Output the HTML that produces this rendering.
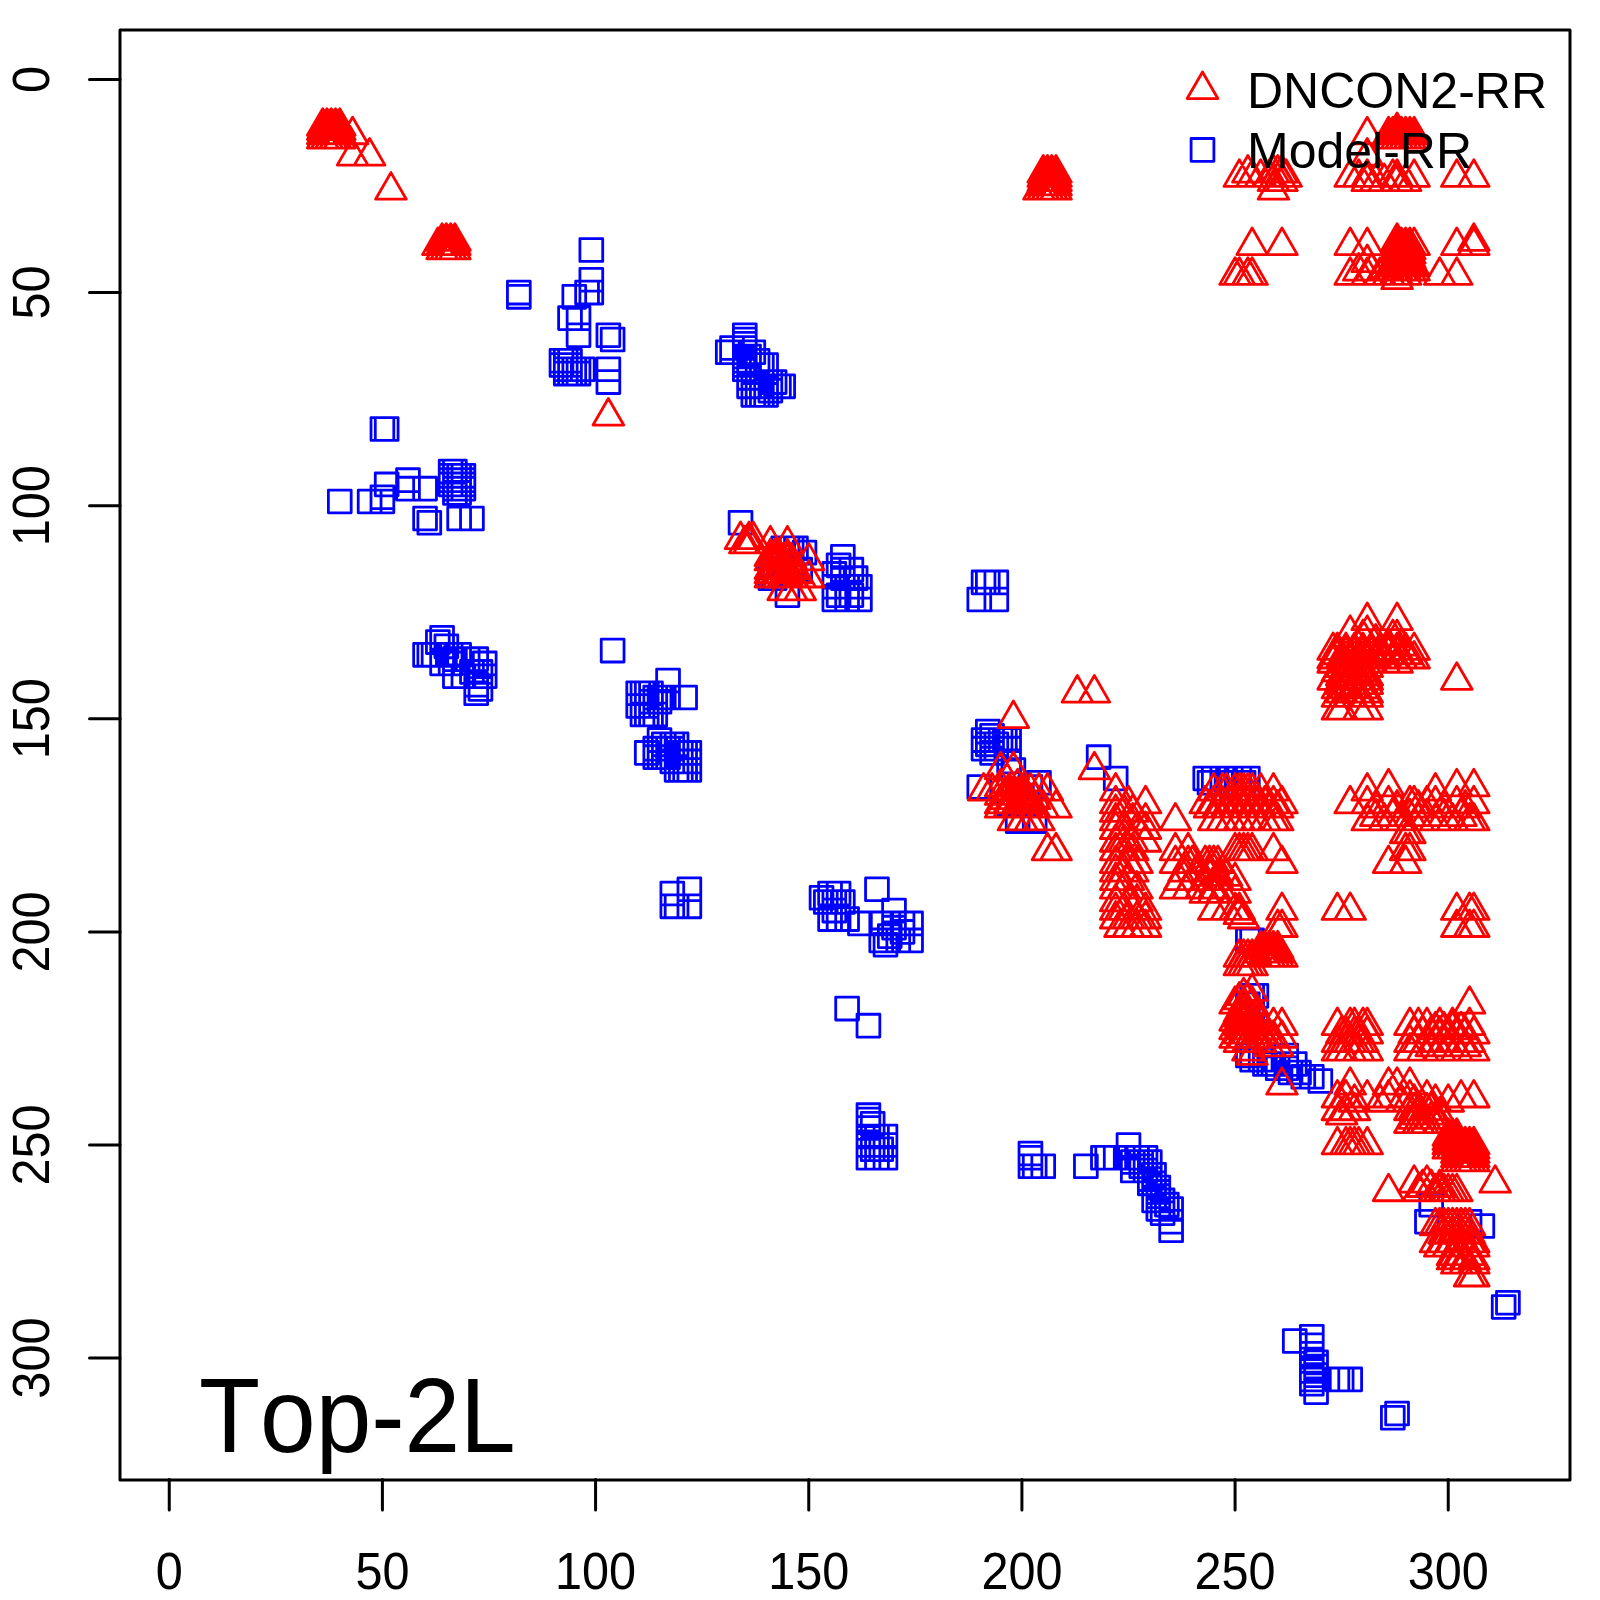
<!DOCTYPE html>
<html><head><meta charset="utf-8"><style>
html,body{margin:0;padding:0;background:#fff;}
svg{display:block;}
text{font-family:"Liberation Sans",Arial,sans-serif;}
</style></head><body>
<svg width="1600" height="1600" viewBox="0 0 1600 1600">
<rect width="1600" height="1600" fill="#fff"/>
<g fill="none" stroke-width="2.8" stroke-linejoin="round" stroke-linecap="round"><path d="M507.44 281.20H530.24V304.00H507.44ZM507.44 285.46H530.24V308.26H507.44ZM579.92 238.58H602.72V261.38H579.92ZM579.92 268.41H602.72V291.21H579.92ZM575.65 281.20H598.45V304.00H575.65ZM579.92 281.20H602.72V304.00H579.92ZM562.86 285.46H585.66V308.26H562.86ZM558.60 306.77H581.40V329.57H558.60ZM567.13 306.77H589.93V329.57H567.13ZM567.13 323.82H589.93V346.62H567.13ZM596.97 323.82H619.77V346.62H596.97ZM601.23 328.08H624.03V350.88H601.23ZM596.97 357.92H619.77V380.72H596.97ZM596.97 370.70H619.77V393.50H596.97ZM550.07 349.39H572.87V372.19H550.07ZM554.34 349.39H577.14V372.19H554.34ZM558.60 349.39H581.40V372.19H558.60ZM550.07 353.65H572.87V376.45H550.07ZM554.34 353.65H577.14V376.45H554.34ZM558.60 353.65H581.40V376.45H558.60ZM554.34 357.92H577.14V380.72H554.34ZM558.60 357.92H581.40V380.72H558.60ZM562.86 357.92H585.66V380.72H562.86ZM567.13 357.92H589.93V380.72H567.13ZM571.39 357.92H594.19V380.72H571.39ZM554.34 362.18H577.14V384.98H554.34ZM558.60 362.18H581.40V384.98H558.60ZM562.86 362.18H585.66V384.98H562.86ZM567.13 362.18H589.93V384.98H567.13ZM371.01 417.58H393.81V440.38H371.01ZM375.28 417.58H398.08V440.38H375.28ZM328.38 490.04H351.18V512.84H328.38ZM358.23 490.04H381.03V512.84H358.23ZM375.28 472.99H398.08V495.79H375.28ZM371.01 485.78H393.81V508.58H371.01ZM371.01 490.04H393.81V512.84H371.01ZM396.59 468.73H419.39V491.53H396.59ZM396.59 477.25H419.39V500.05H396.59ZM413.65 477.25H436.45V500.05H413.65ZM413.65 507.09H436.45V529.89H413.65ZM417.91 511.35H440.71V534.15H417.91ZM447.75 507.09H470.55V529.89H447.75ZM460.54 507.09H483.34V529.89H460.54ZM439.23 460.20H462.03V483.00H439.23ZM443.49 460.20H466.29V483.00H443.49ZM439.23 464.47H462.03V487.27H439.23ZM443.49 464.47H466.29V487.27H443.49ZM447.75 464.47H470.55V487.27H447.75ZM452.02 464.47H474.82V487.27H452.02ZM439.23 468.73H462.03V491.53H439.23ZM443.49 468.73H466.29V491.53H443.49ZM447.75 468.73H470.55V491.53H447.75ZM452.02 468.73H474.82V491.53H452.02ZM439.23 472.99H462.03V495.79H439.23ZM443.49 472.99H466.29V495.79H443.49ZM447.75 472.99H470.55V495.79H447.75ZM452.02 472.99H474.82V495.79H452.02ZM443.49 477.25H466.29V500.05H443.49ZM447.75 477.25H470.55V500.05H447.75ZM452.02 477.25H474.82V500.05H452.02ZM443.49 481.51H466.29V504.31H443.49ZM447.75 481.51H470.55V504.31H447.75ZM430.70 626.42H453.50V649.22H430.70ZM426.44 630.68H449.24V653.48H426.44ZM413.65 643.47H436.45V666.27H413.65ZM422.17 643.47H444.97V666.27H422.17ZM430.70 643.47H453.50V666.27H430.70ZM439.23 643.47H462.03V666.27H439.23ZM447.75 643.47H470.55V666.27H447.75ZM430.70 651.99H453.50V674.79H430.70ZM443.49 647.73H466.29V670.53H443.49ZM456.28 647.73H479.08V670.53H456.28ZM464.81 647.73H487.61V670.53H464.81ZM473.33 651.99H496.13V674.79H473.33ZM443.49 664.78H466.29V687.58H443.49ZM452.02 664.78H474.82V687.58H452.02ZM460.54 660.52H483.34V683.32H460.54ZM469.07 660.52H491.87V683.32H469.07ZM473.33 664.78H496.13V687.58H473.33ZM464.81 673.30H487.61V696.10H464.81ZM464.81 681.83H487.61V704.63H464.81ZM469.07 677.57H491.87V700.37H469.07ZM434.96 634.95H457.76V657.75H434.96ZM417.91 643.47H440.71V666.27H417.91ZM439.23 651.99H462.03V674.79H439.23ZM601.23 639.21H624.03V662.01H601.23ZM656.66 669.04H679.46V691.84H656.66ZM673.71 686.09H696.51V708.89H673.71ZM626.81 681.83H649.61V704.63H626.81ZM631.08 681.83H653.88V704.63H631.08ZM635.34 681.83H658.14V704.63H635.34ZM639.60 681.83H662.40V704.63H639.60ZM643.87 686.09H666.67V708.89H643.87ZM648.13 686.09H670.93V708.89H648.13ZM652.39 686.09H675.19V708.89H652.39ZM656.66 686.09H679.46V708.89H656.66ZM626.81 694.61H649.61V717.41H626.81ZM631.08 694.61H653.88V717.41H631.08ZM635.34 694.61H658.14V717.41H635.34ZM639.60 690.35H662.40V713.15H639.60ZM643.87 690.35H666.67V713.15H643.87ZM648.13 690.35H670.93V713.15H648.13ZM631.08 703.14H653.88V725.94H631.08ZM635.34 703.14H658.14V725.94H635.34ZM639.60 703.14H662.40V725.94H639.60ZM643.87 703.14H666.67V725.94H643.87ZM648.13 728.71H670.93V751.51H648.13ZM652.39 732.97H675.19V755.77H652.39ZM660.92 732.97H683.72V755.77H660.92ZM665.18 732.97H687.98V755.77H665.18ZM635.34 741.50H658.14V764.30H635.34ZM643.87 737.23H666.67V760.03H643.87ZM648.13 737.23H670.93V760.03H648.13ZM652.39 737.23H675.19V760.03H652.39ZM656.66 737.23H679.46V760.03H656.66ZM660.92 737.23H683.72V760.03H660.92ZM665.18 741.50H687.98V764.30H665.18ZM669.45 741.50H692.25V764.30H669.45ZM673.71 741.50H696.51V764.30H673.71ZM677.97 741.50H700.77V764.30H677.97ZM643.87 745.76H666.67V768.56H643.87ZM648.13 745.76H670.93V768.56H648.13ZM652.39 745.76H675.19V768.56H652.39ZM656.66 745.76H679.46V768.56H656.66ZM660.92 750.02H683.72V772.82H660.92ZM665.18 750.02H687.98V772.82H665.18ZM669.45 750.02H692.25V772.82H669.45ZM673.71 750.02H696.51V772.82H673.71ZM665.18 758.54H687.98V781.34H665.18ZM669.45 758.54H692.25V781.34H669.45ZM673.71 758.54H696.51V781.34H673.71ZM677.97 758.54H700.77V781.34H677.97ZM677.97 741.50H700.77V764.30H677.97ZM677.97 750.02H700.77V772.82H677.97ZM733.40 323.82H756.20V346.62H733.40ZM733.40 328.08H756.20V350.88H733.40ZM733.40 332.34H756.20V355.14H733.40ZM733.40 336.61H756.20V359.41H733.40ZM733.40 340.87H756.20V363.67H733.40ZM733.40 345.13H756.20V367.93H733.40ZM733.40 349.39H756.20V372.19H733.40ZM733.40 353.65H756.20V376.45H733.40ZM733.40 357.92H756.20V380.72H733.40ZM716.34 340.87H739.14V363.67H716.34ZM720.61 336.61H743.41V359.41H720.61ZM720.61 340.87H743.41V363.67H720.61ZM741.92 340.87H764.72V363.67H741.92ZM737.66 345.13H760.46V367.93H737.66ZM746.19 349.39H768.99V372.19H746.19ZM750.45 353.65H773.25V376.45H750.45ZM754.71 353.65H777.51V376.45H754.71ZM737.66 374.96H760.46V397.76H737.66ZM741.92 374.96H764.72V397.76H741.92ZM746.19 374.96H768.99V397.76H746.19ZM750.45 374.96H773.25V397.76H750.45ZM754.71 374.96H777.51V397.76H754.71ZM758.98 370.70H781.78V393.50H758.98ZM763.24 370.70H786.04V393.50H763.24ZM767.50 374.96H790.30V397.76H767.50ZM771.77 374.96H794.57V397.76H771.77ZM741.92 383.49H764.72V406.29H741.92ZM746.19 383.49H768.99V406.29H746.19ZM750.45 383.49H773.25V406.29H750.45ZM754.71 383.49H777.51V406.29H754.71ZM737.66 366.44H760.46V389.24H737.66ZM758.98 379.23H781.78V402.03H758.98ZM729.13 511.35H751.93V534.15H729.13ZM771.77 536.92H794.57V559.72H771.77ZM776.03 536.92H798.83V559.72H776.03ZM780.29 536.92H803.09V559.72H780.29ZM784.56 536.92H807.36V559.72H784.56ZM793.08 541.18H815.88V563.98H793.08ZM758.98 566.75H781.78V589.55H758.98ZM763.24 566.75H786.04V589.55H763.24ZM776.03 583.80H798.83V606.60H776.03ZM767.50 549.71H790.30V572.51H767.50ZM780.29 553.97H803.09V576.77H780.29ZM788.82 558.23H811.62V581.03H788.82ZM771.77 562.49H794.57V585.29H771.77ZM831.45 545.44H854.25V568.24H831.45ZM827.19 553.97H849.99V576.77H827.19ZM839.98 558.23H862.78V581.03H839.98ZM822.92 562.49H845.72V585.29H822.92ZM831.45 566.75H854.25V589.55H831.45ZM844.24 566.75H867.04V589.55H844.24ZM822.92 575.28H845.72V598.08H822.92ZM835.71 575.28H858.51V598.08H835.71ZM848.50 575.28H871.30V598.08H848.50ZM827.19 583.80H849.99V606.60H827.19ZM839.98 583.80H862.78V606.60H839.98ZM848.50 588.06H871.30V610.86H848.50ZM822.92 588.06H845.72V610.86H822.92ZM835.71 588.06H858.51V610.86H835.71ZM831.45 558.23H854.25V581.03H831.45ZM660.92 882.14H683.72V904.94H660.92ZM677.97 877.88H700.77V900.68H677.97ZM660.92 894.93H683.72V917.73H660.92ZM677.97 894.93H700.77V917.73H677.97ZM665.18 894.93H687.98V917.73H665.18ZM810.13 886.40H832.93V909.20H810.13ZM818.66 882.14H841.46V904.94H818.66ZM827.19 882.14H849.99V904.94H827.19ZM814.40 890.67H837.20V913.47H814.40ZM822.92 890.67H845.72V913.47H822.92ZM831.45 890.67H854.25V913.47H831.45ZM818.66 907.71H841.46V930.51H818.66ZM827.19 907.71H849.99V930.51H827.19ZM835.71 907.71H858.51V930.51H835.71ZM822.92 899.19H845.72V921.99H822.92ZM865.56 877.88H888.36V900.68H865.56ZM882.61 899.19H905.41V921.99H882.61ZM848.50 911.98H871.30V934.78H848.50ZM869.82 911.98H892.62V934.78H869.82ZM882.61 916.24H905.41V939.04H882.61ZM891.14 911.98H913.94V934.78H891.14ZM899.66 911.98H922.46V934.78H899.66ZM869.82 929.02H892.62V951.82H869.82ZM878.35 924.76H901.15V947.56H878.35ZM886.87 929.02H909.67V951.82H886.87ZM899.66 929.02H922.46V951.82H899.66ZM891.14 920.50H913.94V943.30H891.14ZM874.08 933.29H896.88V956.09H874.08ZM835.71 997.22H858.51V1020.02H835.71ZM857.03 1014.26H879.83V1037.06H857.03ZM857.03 1103.77H879.83V1126.57H857.03ZM857.03 1108.03H879.83V1130.83H857.03ZM857.03 1116.55H879.83V1139.35H857.03ZM857.03 1125.08H879.83V1147.88H857.03ZM857.03 1133.60H879.83V1156.40H857.03ZM857.03 1146.39H879.83V1169.19H857.03ZM861.29 1112.29H884.09V1135.09H861.29ZM865.56 1125.08H888.36V1147.88H865.56ZM874.08 1125.08H896.88V1147.88H874.08ZM874.08 1133.60H896.88V1156.40H874.08ZM874.08 1146.39H896.88V1169.19H874.08ZM865.56 1146.39H888.36V1169.19H865.56ZM869.82 1137.86H892.62V1160.66H869.82ZM861.29 1137.86H884.09V1160.66H861.29ZM1019.04 1142.12H1041.84V1164.92H1019.04ZM1019.04 1146.39H1041.84V1169.19H1019.04ZM1019.04 1154.91H1041.84V1177.71H1019.04ZM1031.83 1154.91H1054.63V1177.71H1031.83ZM1023.30 1154.91H1046.10V1177.71H1023.30ZM1074.46 1154.91H1097.26V1177.71H1074.46ZM1091.51 1146.39H1114.31V1169.19H1091.51ZM1104.30 1146.39H1127.10V1169.19H1104.30ZM1095.78 1146.39H1118.58V1169.19H1095.78ZM1117.09 1133.60H1139.89V1156.40H1117.09ZM1117.09 1146.39H1139.89V1169.19H1117.09ZM1121.36 1150.65H1144.16V1173.45H1121.36ZM1121.36 1159.17H1144.16V1181.97H1121.36ZM1125.62 1146.39H1148.42V1169.19H1125.62ZM1129.88 1150.65H1152.68V1173.45H1129.88ZM1138.41 1150.65H1161.21V1173.45H1138.41ZM1134.15 1159.17H1156.95V1181.97H1134.15ZM1129.88 1154.91H1152.68V1177.71H1129.88ZM1138.41 1171.96H1161.21V1194.76H1138.41ZM1142.67 1171.96H1165.47V1194.76H1142.67ZM1146.94 1176.22H1169.74V1199.02H1146.94ZM1138.41 1167.70H1161.21V1190.50H1138.41ZM1142.67 1189.01H1165.47V1211.81H1142.67ZM1151.20 1189.01H1174.00V1211.81H1151.20ZM1146.94 1184.74H1169.74V1207.54H1146.94ZM1146.94 1197.53H1169.74V1220.33H1146.94ZM1151.20 1201.79H1174.00V1224.59H1151.20ZM1159.73 1197.53H1182.53V1220.33H1159.73ZM1159.73 1210.32H1182.53V1233.12H1159.73ZM1159.73 1218.84H1182.53V1241.64H1159.73ZM1155.46 1193.27H1178.26V1216.07H1155.46ZM1146.94 1180.48H1169.74V1203.28H1146.94ZM1142.67 1163.43H1165.47V1186.23H1142.67ZM1134.15 1146.39H1156.95V1169.19H1134.15ZM1283.36 1329.65H1306.16V1352.45H1283.36ZM1300.41 1325.39H1323.21V1348.19H1300.41ZM1300.41 1333.91H1323.21V1356.71H1300.41ZM1304.68 1350.96H1327.48V1373.76H1304.68ZM1300.41 1359.49H1323.21V1382.29H1300.41ZM1300.41 1368.01H1323.21V1390.81H1300.41ZM1304.68 1380.80H1327.48V1403.60H1304.68ZM1300.41 1342.44H1323.21V1365.24H1300.41ZM1304.68 1355.22H1327.48V1378.02H1304.68ZM1304.68 1363.75H1327.48V1386.55H1304.68ZM1300.41 1372.27H1323.21V1395.07H1300.41ZM1325.99 1368.01H1348.79V1390.81H1325.99ZM1330.26 1368.01H1353.06V1390.81H1330.26ZM1338.78 1368.01H1361.58V1390.81H1338.78ZM1385.68 1402.11H1408.48V1424.91H1385.68ZM1381.42 1406.37H1404.22V1429.17H1381.42ZM1496.53 1291.29H1519.33V1314.09H1496.53ZM1492.26 1295.56H1515.06V1318.36H1492.26ZM976.40 720.19H999.20V742.99H976.40ZM980.67 724.45H1003.47V747.25H980.67ZM972.14 728.71H994.94V751.51H972.14ZM972.14 737.23H994.94V760.03H972.14ZM976.40 732.97H999.20V755.77H976.40ZM980.67 741.50H1003.47V764.30H980.67ZM984.93 732.97H1007.73V755.77H984.93ZM989.19 728.71H1011.99V751.51H989.19ZM993.46 728.71H1016.26V751.51H993.46ZM997.72 728.71H1020.52V751.51H997.72ZM997.72 737.23H1020.52V760.03H997.72ZM984.93 737.23H1007.73V760.03H984.93ZM1001.98 758.54H1024.78V781.34H1001.98ZM997.72 750.02H1020.52V772.82H997.72ZM1087.25 745.76H1110.05V768.56H1087.25ZM1104.30 767.07H1127.10V789.87H1104.30ZM967.88 775.59H990.68V798.39H967.88ZM1006.25 809.69H1029.05V832.49H1006.25ZM1023.30 809.69H1046.10V832.49H1023.30ZM1019.04 775.59H1041.84V798.39H1019.04ZM1027.56 771.33H1050.36V794.13H1027.56ZM1010.51 784.12H1033.31V806.92H1010.51ZM997.72 792.64H1020.52V815.44H997.72ZM1014.77 792.64H1037.57V815.44H1014.77ZM1193.83 767.07H1216.63V789.87H1193.83ZM1202.36 767.07H1225.16V789.87H1202.36ZM1210.89 767.07H1233.69V789.87H1210.89ZM1219.41 767.07H1242.21V789.87H1219.41ZM1227.94 767.07H1250.74V789.87H1227.94ZM1236.46 767.07H1259.26V789.87H1236.46ZM1198.10 771.33H1220.90V794.13H1198.10ZM1215.15 771.33H1237.95V794.13H1215.15ZM1232.20 771.33H1255.00V794.13H1232.20ZM1236.46 929.02H1259.26V951.82H1236.46ZM1244.99 984.43H1267.79V1007.23H1244.99ZM1240.73 984.43H1263.53V1007.23H1240.73ZM1236.46 992.95H1259.26V1015.75H1236.46ZM1240.73 1005.74H1263.53V1028.54H1240.73ZM1236.46 1044.10H1259.26V1066.90H1236.46ZM1240.73 1048.36H1263.53V1071.16H1240.73ZM1249.25 1048.36H1272.05V1071.16H1249.25ZM1253.52 1052.62H1276.32V1075.42H1253.52ZM1262.04 1052.62H1284.84V1075.42H1262.04ZM1266.31 1056.88H1289.11V1079.68H1266.31ZM1274.83 1056.88H1297.63V1079.68H1274.83ZM1279.10 1061.15H1301.90V1083.95H1279.10ZM1287.62 1061.15H1310.42V1083.95H1287.62ZM1291.89 1065.41H1314.69V1088.21H1291.89ZM1300.41 1065.41H1323.21V1088.21H1300.41ZM1308.94 1069.67H1331.74V1092.47H1308.94ZM1274.83 1044.10H1297.63V1066.90H1274.83ZM1415.52 1210.32H1438.32V1233.12H1415.52ZM1419.79 1193.27H1442.59V1216.07H1419.79ZM1470.95 1214.58H1493.75V1237.38H1470.95ZM1458.16 1210.32H1480.96V1233.12H1458.16ZM1240.73 929.02H1263.53V951.82H1240.73ZM1257.78 1052.62H1280.58V1075.42H1257.78ZM1283.36 1052.62H1306.16V1075.42H1283.36ZM972.14 571.02H994.94V593.82H972.14ZM984.93 571.02H1007.73V593.82H984.93ZM967.88 588.06H990.68V610.86H967.88ZM984.93 588.06H1007.73V610.86H984.93ZM976.40 571.02H999.20V593.82H976.40ZM1236.46 929.02H1259.26V951.82H1236.46Z" stroke="#0000ff"/><path d="M390.94 172.58L406.29 199.18L375.59 199.18ZM369.63 138.49L384.98 165.08L354.27 165.08ZM352.57 138.49L367.93 165.08L337.22 165.08ZM352.57 117.18L367.93 143.77L337.22 143.77ZM326.99 108.65L342.35 135.25L311.64 135.25ZM331.26 108.65L346.61 135.25L315.90 135.25ZM335.52 108.65L350.87 135.25L320.17 135.25ZM322.73 112.92L338.08 139.51L307.38 139.51ZM326.99 112.92L342.35 139.51L311.64 139.51ZM331.26 112.92L346.61 139.51L315.90 139.51ZM326.99 117.18L342.35 143.77L311.64 143.77ZM331.26 117.18L346.61 143.77L315.90 143.77ZM335.52 117.18L350.87 143.77L320.17 143.77ZM331.26 121.44L346.61 148.03L315.90 148.03ZM335.52 121.44L350.87 148.03L320.17 148.03ZM339.78 121.44L355.14 148.03L324.43 148.03ZM437.84 227.99L453.19 254.58L422.48 254.58ZM446.36 223.73L461.72 250.32L431.01 250.32ZM450.63 223.73L465.98 250.32L435.27 250.32ZM454.89 223.73L470.24 250.32L439.54 250.32ZM446.36 232.25L461.72 258.84L431.01 258.84ZM450.63 227.99L465.98 254.58L435.27 254.58ZM442.10 227.99L457.45 254.58L426.75 254.58ZM608.37 398.47L623.72 425.06L593.02 425.06ZM740.53 522.07L755.89 548.66L725.18 548.66ZM749.06 522.07L764.41 548.66L733.71 548.66ZM753.32 522.07L768.68 548.66L737.97 548.66ZM744.80 526.33L760.15 552.92L729.44 552.92ZM749.06 526.33L764.41 552.92L733.71 552.92ZM770.38 526.33L785.73 552.92L755.02 552.92ZM787.43 526.33L802.78 552.92L772.08 552.92ZM770.38 539.12L785.73 565.71L755.02 565.71ZM774.64 539.12L789.99 565.71L759.29 565.71ZM778.90 539.12L794.26 565.71L763.55 565.71ZM787.43 539.12L802.78 565.71L772.08 565.71ZM770.38 543.38L785.73 569.97L755.02 569.97ZM774.64 543.38L789.99 569.97L759.29 569.97ZM783.17 543.38L798.52 569.97L767.81 569.97ZM787.43 543.38L802.78 569.97L772.08 569.97ZM791.69 543.38L807.05 569.97L776.34 569.97ZM808.75 543.38L824.10 569.97L793.39 569.97ZM770.38 556.16L785.73 582.76L755.02 582.76ZM778.90 556.16L794.26 582.76L763.55 582.76ZM787.43 556.16L802.78 582.76L772.08 582.76ZM795.96 556.16L811.31 582.76L780.60 582.76ZM770.38 560.43L785.73 587.02L755.02 587.02ZM774.64 560.43L789.99 587.02L759.29 587.02ZM783.17 560.43L798.52 587.02L767.81 587.02ZM791.69 560.43L807.05 587.02L776.34 587.02ZM800.22 560.43L815.57 587.02L784.87 587.02ZM808.75 560.43L824.10 587.02L793.39 587.02ZM783.17 573.21L798.52 599.80L767.81 599.80ZM791.69 573.21L807.05 599.80L776.34 599.80ZM800.22 573.21L815.57 599.80L784.87 599.80ZM1239.34 159.80L1254.69 186.39L1223.99 186.39ZM1247.86 155.54L1263.22 182.13L1232.51 182.13ZM1252.13 159.80L1267.48 186.39L1236.77 186.39ZM1269.18 159.80L1284.53 186.39L1253.83 186.39ZM1273.44 155.54L1288.80 182.13L1258.09 182.13ZM1277.71 155.54L1293.06 182.13L1262.35 182.13ZM1281.97 155.54L1297.32 182.13L1266.62 182.13ZM1286.23 159.80L1301.59 186.39L1270.88 186.39ZM1273.44 164.06L1288.80 190.65L1258.09 190.65ZM1281.97 164.06L1297.32 190.65L1266.62 190.65ZM1273.44 172.58L1288.80 199.18L1258.09 199.18ZM1260.65 159.80L1276.01 186.39L1245.30 186.39ZM1252.13 227.99L1267.48 254.58L1236.77 254.58ZM1281.97 227.99L1297.32 254.58L1266.62 254.58ZM1235.08 257.82L1250.43 284.42L1219.72 284.42ZM1239.34 257.82L1254.69 284.42L1223.99 284.42ZM1247.86 257.82L1263.22 284.42L1232.51 284.42ZM1252.13 257.82L1267.48 284.42L1236.77 284.42ZM1367.24 117.18L1382.59 143.77L1351.88 143.77ZM1388.55 117.18L1403.91 143.77L1373.20 143.77ZM1392.82 117.18L1408.17 143.77L1377.46 143.77ZM1397.08 112.92L1412.43 139.51L1381.73 139.51ZM1401.34 117.18L1416.70 143.77L1385.99 143.77ZM1405.61 117.18L1420.96 143.77L1390.25 143.77ZM1409.87 117.18L1425.22 143.77L1394.52 143.77ZM1414.13 117.18L1429.49 143.77L1398.78 143.77ZM1392.82 121.44L1408.17 148.03L1377.46 148.03ZM1401.34 121.44L1416.70 148.03L1385.99 148.03ZM1405.61 121.44L1420.96 148.03L1390.25 148.03ZM1397.08 117.18L1412.43 143.77L1381.73 143.77ZM1367.24 138.49L1382.59 165.08L1351.88 165.08ZM1350.18 159.80L1365.54 186.39L1334.83 186.39ZM1358.71 159.80L1374.06 186.39L1343.36 186.39ZM1367.24 159.80L1382.59 186.39L1351.88 186.39ZM1367.24 164.06L1382.59 190.65L1351.88 190.65ZM1375.76 164.06L1391.12 190.65L1360.41 190.65ZM1384.29 164.06L1399.64 190.65L1368.94 190.65ZM1392.82 159.80L1408.17 186.39L1377.46 186.39ZM1397.08 159.80L1412.43 186.39L1381.73 186.39ZM1397.08 164.06L1412.43 190.65L1381.73 190.65ZM1405.61 164.06L1420.96 190.65L1390.25 190.65ZM1414.13 159.80L1429.49 186.39L1398.78 186.39ZM1456.77 159.80L1472.12 186.39L1441.41 186.39ZM1473.82 159.80L1489.17 186.39L1458.47 186.39ZM1350.18 227.99L1365.54 254.58L1334.83 254.58ZM1367.24 227.99L1382.59 254.58L1351.88 254.58ZM1397.08 223.73L1412.43 250.32L1381.73 250.32ZM1401.34 227.99L1416.70 254.58L1385.99 254.58ZM1405.61 227.99L1420.96 254.58L1390.25 254.58ZM1409.87 227.99L1425.22 254.58L1394.52 254.58ZM1414.13 227.99L1429.49 254.58L1398.78 254.58ZM1456.77 227.99L1472.12 254.58L1441.41 254.58ZM1473.82 223.73L1489.17 250.32L1458.47 250.32ZM1473.82 227.99L1489.17 254.58L1458.47 254.58ZM1401.34 232.25L1416.70 258.84L1385.99 258.84ZM1405.61 232.25L1420.96 258.84L1390.25 258.84ZM1367.24 245.04L1382.59 271.63L1351.88 271.63ZM1350.18 257.82L1365.54 284.42L1334.83 284.42ZM1358.71 253.56L1374.06 280.15L1343.36 280.15ZM1367.24 257.82L1382.59 284.42L1351.88 284.42ZM1371.50 253.56L1386.85 280.15L1356.15 280.15ZM1439.71 257.82L1455.07 284.42L1424.36 284.42ZM1456.77 257.82L1472.12 284.42L1441.41 284.42ZM1397.08 257.82L1412.43 284.42L1381.73 284.42ZM1397.08 262.09L1412.43 288.68L1381.73 288.68ZM1384.29 253.56L1399.64 280.15L1368.94 280.15ZM1388.55 253.56L1403.91 280.15L1373.20 280.15ZM1392.82 253.56L1408.17 280.15L1377.46 280.15ZM1401.34 253.56L1416.70 280.15L1385.99 280.15ZM1405.61 253.56L1420.96 280.15L1390.25 280.15ZM1409.87 253.56L1425.22 280.15L1394.52 280.15ZM1414.13 253.56L1429.49 280.15L1398.78 280.15ZM1388.55 257.82L1403.91 284.42L1373.20 284.42ZM1405.61 257.82L1420.96 284.42L1390.25 284.42ZM1380.03 257.82L1395.38 284.42L1364.67 284.42ZM1414.13 249.30L1429.49 275.89L1398.78 275.89ZM1401.34 249.30L1416.70 275.89L1385.99 275.89ZM1392.82 249.30L1408.17 275.89L1377.46 275.89ZM1047.49 155.54L1062.84 182.13L1032.14 182.13ZM1051.75 155.54L1067.11 182.13L1036.40 182.13ZM1056.02 159.80L1071.37 186.39L1040.66 186.39ZM1051.75 164.06L1067.11 190.65L1036.40 190.65ZM1047.49 168.32L1062.84 194.91L1032.14 194.91ZM1047.49 172.58L1062.84 199.18L1032.14 199.18ZM1038.96 172.58L1054.32 199.18L1023.61 199.18ZM1043.23 164.06L1058.58 190.65L1027.87 190.65ZM1043.23 172.58L1058.58 199.18L1027.87 199.18ZM1047.49 164.06L1062.84 190.65L1032.14 190.65ZM1043.23 168.32L1058.58 194.91L1027.87 194.91ZM1367.24 603.05L1382.59 629.64L1351.88 629.64ZM1397.08 603.05L1412.43 629.64L1381.73 629.64ZM1350.18 615.83L1365.54 642.42L1334.83 642.42ZM1367.24 615.83L1382.59 642.42L1351.88 642.42ZM1362.97 620.09L1378.33 646.69L1347.62 646.69ZM1392.82 620.09L1408.17 646.69L1377.46 646.69ZM1397.08 620.09L1412.43 646.69L1381.73 646.69ZM1333.13 632.88L1348.48 659.47L1317.78 659.47ZM1337.39 632.88L1352.75 659.47L1322.04 659.47ZM1345.92 632.88L1361.27 659.47L1330.57 659.47ZM1354.45 632.88L1369.80 659.47L1339.09 659.47ZM1362.97 632.88L1378.33 659.47L1347.62 659.47ZM1371.50 632.88L1386.85 659.47L1356.15 659.47ZM1380.03 632.88L1395.38 659.47L1364.67 659.47ZM1388.55 632.88L1403.91 659.47L1373.20 659.47ZM1397.08 632.88L1412.43 659.47L1381.73 659.47ZM1405.61 632.88L1420.96 659.47L1390.25 659.47ZM1414.13 632.88L1429.49 659.47L1398.78 659.47ZM1333.13 641.40L1348.48 668.00L1317.78 668.00ZM1341.66 641.40L1357.01 668.00L1326.30 668.00ZM1350.18 641.40L1365.54 668.00L1334.83 668.00ZM1358.71 641.40L1374.06 668.00L1343.36 668.00ZM1367.24 641.40L1382.59 668.00L1351.88 668.00ZM1375.76 641.40L1391.12 668.00L1360.41 668.00ZM1384.29 641.40L1399.64 668.00L1368.94 668.00ZM1392.82 641.40L1408.17 668.00L1377.46 668.00ZM1401.34 641.40L1416.70 668.00L1385.99 668.00ZM1409.87 641.40L1425.22 668.00L1394.52 668.00ZM1414.13 641.40L1429.49 668.00L1398.78 668.00ZM1333.13 645.67L1348.48 672.26L1317.78 672.26ZM1345.92 645.67L1361.27 672.26L1330.57 672.26ZM1358.71 645.67L1374.06 672.26L1343.36 672.26ZM1371.50 645.67L1386.85 672.26L1356.15 672.26ZM1384.29 645.67L1399.64 672.26L1368.94 672.26ZM1397.08 645.67L1412.43 672.26L1381.73 672.26ZM1337.39 654.19L1352.75 680.78L1322.04 680.78ZM1345.92 654.19L1361.27 680.78L1330.57 680.78ZM1354.45 654.19L1369.80 680.78L1339.09 680.78ZM1362.97 654.19L1378.33 680.78L1347.62 680.78ZM1333.13 662.71L1348.48 689.31L1317.78 689.31ZM1341.66 662.71L1357.01 689.31L1326.30 689.31ZM1350.18 662.71L1365.54 689.31L1334.83 689.31ZM1358.71 662.71L1374.06 689.31L1343.36 689.31ZM1367.24 662.71L1382.59 689.31L1351.88 689.31ZM1337.39 671.24L1352.75 697.83L1322.04 697.83ZM1345.92 671.24L1361.27 697.83L1330.57 697.83ZM1354.45 671.24L1369.80 697.83L1339.09 697.83ZM1362.97 671.24L1378.33 697.83L1347.62 697.83ZM1337.39 679.76L1352.75 706.35L1322.04 706.35ZM1350.18 679.76L1365.54 706.35L1334.83 706.35ZM1358.71 679.76L1374.06 706.35L1343.36 706.35ZM1367.24 679.76L1382.59 706.35L1351.88 706.35ZM1337.39 692.55L1352.75 719.14L1322.04 719.14ZM1341.66 692.55L1357.01 719.14L1326.30 719.14ZM1358.71 692.55L1374.06 719.14L1343.36 719.14ZM1367.24 692.55L1382.59 719.14L1351.88 719.14ZM1456.77 662.71L1472.12 689.31L1441.41 689.31ZM1077.33 675.50L1092.69 702.09L1061.98 702.09ZM1094.39 675.50L1109.74 702.09L1079.03 702.09ZM1013.38 701.07L1028.74 727.66L998.03 727.66ZM1000.59 752.22L1015.95 778.81L985.24 778.81ZM1013.38 752.22L1028.74 778.81L998.03 778.81ZM1094.39 752.22L1109.74 778.81L1079.03 778.81ZM1115.70 773.53L1131.06 800.12L1100.35 800.12ZM983.54 773.53L998.89 800.12L968.19 800.12ZM1030.44 773.53L1045.79 800.12L1015.08 800.12ZM1038.96 773.53L1054.32 800.12L1023.61 800.12ZM1047.49 773.53L1062.84 800.12L1032.14 800.12ZM1115.70 786.31L1131.06 812.90L1100.35 812.90ZM1128.49 786.31L1143.85 812.90L1113.14 812.90ZM1000.59 769.26L1015.95 795.86L985.24 795.86ZM1017.65 769.26L1033.00 795.86L1002.29 795.86ZM992.07 773.53L1007.42 800.12L976.71 800.12ZM1009.12 773.53L1024.47 800.12L993.77 800.12ZM1021.91 773.53L1037.26 800.12L1006.56 800.12ZM1047.49 833.19L1062.84 859.79L1032.14 859.79ZM1056.02 833.19L1071.37 859.79L1040.66 859.79ZM1000.59 790.57L1015.95 817.17L985.24 817.17ZM1009.12 790.57L1024.47 817.17L993.77 817.17ZM1017.65 790.57L1033.00 817.17L1002.29 817.17ZM1026.17 790.57L1041.53 817.17L1010.82 817.17ZM1034.70 790.57L1050.05 817.17L1019.35 817.17ZM1043.23 790.57L1058.58 817.17L1027.87 817.17ZM1056.02 790.57L1071.37 817.17L1040.66 817.17ZM1004.86 782.05L1020.21 808.64L989.50 808.64ZM1021.91 782.05L1037.26 808.64L1006.56 808.64ZM1034.70 782.05L1050.05 808.64L1019.35 808.64ZM1013.38 803.36L1028.74 829.95L998.03 829.95ZM1021.91 803.36L1037.26 829.95L1006.56 829.95ZM1030.44 803.36L1045.79 829.95L1015.08 829.95ZM1038.96 803.36L1054.32 829.95L1023.61 829.95ZM1004.86 777.79L1020.21 804.38L989.50 804.38ZM1013.38 777.79L1028.74 804.38L998.03 804.38ZM1021.91 777.79L1037.26 804.38L1006.56 804.38ZM1030.44 786.31L1045.79 812.90L1015.08 812.90ZM1115.70 786.31L1131.06 812.90L1100.35 812.90ZM1128.49 786.31L1143.85 812.90L1113.14 812.90ZM1145.55 786.31L1160.90 812.90L1130.19 812.90ZM1115.70 794.84L1131.06 821.43L1100.35 821.43ZM1124.23 794.84L1139.58 821.43L1108.88 821.43ZM1132.76 794.84L1148.11 821.43L1117.40 821.43ZM1115.70 803.36L1131.06 829.95L1100.35 829.95ZM1132.76 803.36L1148.11 829.95L1117.40 829.95ZM1145.55 803.36L1160.90 829.95L1130.19 829.95ZM1115.70 811.88L1131.06 838.48L1100.35 838.48ZM1124.23 811.88L1139.58 838.48L1108.88 838.48ZM1137.02 811.88L1152.37 838.48L1121.67 838.48ZM1145.55 811.88L1160.90 838.48L1130.19 838.48ZM1115.70 824.67L1131.06 851.26L1100.35 851.26ZM1124.23 824.67L1139.58 851.26L1108.88 851.26ZM1132.76 824.67L1148.11 851.26L1117.40 851.26ZM1145.55 824.67L1160.90 851.26L1130.19 851.26ZM1115.70 833.19L1131.06 859.79L1100.35 859.79ZM1124.23 833.19L1139.58 859.79L1108.88 859.79ZM1132.76 833.19L1148.11 859.79L1117.40 859.79ZM1115.70 845.98L1131.06 872.57L1100.35 872.57ZM1128.49 845.98L1143.85 872.57L1113.14 872.57ZM1137.02 845.98L1152.37 872.57L1121.67 872.57ZM1115.70 854.50L1131.06 881.10L1100.35 881.10ZM1124.23 854.50L1139.58 881.10L1108.88 881.10ZM1132.76 854.50L1148.11 881.10L1117.40 881.10ZM1115.70 863.03L1131.06 889.62L1100.35 889.62ZM1128.49 863.03L1143.85 889.62L1113.14 889.62ZM1115.70 871.55L1131.06 898.14L1100.35 898.14ZM1124.23 871.55L1139.58 898.14L1108.88 898.14ZM1137.02 871.55L1152.37 898.14L1121.67 898.14ZM1115.70 884.34L1131.06 910.93L1100.35 910.93ZM1128.49 884.34L1143.85 910.93L1113.14 910.93ZM1137.02 884.34L1152.37 910.93L1121.67 910.93ZM1115.70 892.86L1131.06 919.45L1100.35 919.45ZM1124.23 892.86L1139.58 919.45L1108.88 919.45ZM1132.76 892.86L1148.11 919.45L1117.40 919.45ZM1145.55 892.86L1160.90 919.45L1130.19 919.45ZM1115.70 901.39L1131.06 927.98L1100.35 927.98ZM1128.49 901.39L1143.85 927.98L1113.14 927.98ZM1137.02 901.39L1152.37 927.98L1121.67 927.98ZM1145.55 901.39L1160.90 927.98L1130.19 927.98ZM1119.97 909.91L1135.32 936.50L1104.61 936.50ZM1128.49 909.91L1143.85 936.50L1113.14 936.50ZM1137.02 909.91L1152.37 936.50L1121.67 936.50ZM1145.55 909.91L1160.90 936.50L1130.19 936.50ZM1175.39 803.36L1190.74 829.95L1160.04 829.95ZM1175.39 833.19L1190.74 859.79L1160.04 859.79ZM1188.18 833.19L1203.53 859.79L1172.83 859.79ZM1175.39 845.98L1190.74 872.57L1160.04 872.57ZM1188.18 845.98L1203.53 872.57L1172.83 872.57ZM1192.44 845.98L1207.80 872.57L1177.09 872.57ZM1205.23 845.98L1220.59 872.57L1189.88 872.57ZM1218.02 845.98L1233.38 872.57L1202.67 872.57ZM1183.92 854.50L1199.27 881.10L1168.56 881.10ZM1196.71 854.50L1212.06 881.10L1181.35 881.10ZM1209.50 854.50L1224.85 881.10L1194.14 881.10ZM1179.65 863.03L1195.01 889.62L1164.30 889.62ZM1192.44 863.03L1207.80 889.62L1177.09 889.62ZM1205.23 863.03L1220.59 889.62L1189.88 889.62ZM1218.02 863.03L1233.38 889.62L1202.67 889.62ZM1175.39 871.55L1190.74 898.14L1160.04 898.14ZM1188.18 871.55L1203.53 898.14L1172.83 898.14ZM1200.97 871.55L1216.32 898.14L1185.62 898.14ZM1213.76 871.55L1229.11 898.14L1198.41 898.14ZM1213.76 773.53L1229.11 800.12L1198.41 800.12ZM1222.29 773.53L1237.64 800.12L1206.93 800.12ZM1226.55 773.53L1241.90 800.12L1211.20 800.12ZM1235.08 773.53L1250.43 800.12L1219.72 800.12ZM1239.34 773.53L1254.69 800.12L1223.99 800.12ZM1243.60 773.53L1258.95 800.12L1228.25 800.12ZM1247.86 773.53L1263.22 800.12L1232.51 800.12ZM1252.13 773.53L1267.48 800.12L1236.77 800.12ZM1260.65 773.53L1276.01 800.12L1245.30 800.12ZM1273.44 773.53L1288.80 800.12L1258.09 800.12ZM1205.23 786.31L1220.59 812.90L1189.88 812.90ZM1213.76 786.31L1229.11 812.90L1198.41 812.90ZM1222.29 786.31L1237.64 812.90L1206.93 812.90ZM1230.81 786.31L1246.16 812.90L1215.46 812.90ZM1239.34 786.31L1254.69 812.90L1223.99 812.90ZM1247.86 786.31L1263.22 812.90L1232.51 812.90ZM1256.39 786.31L1271.74 812.90L1241.04 812.90ZM1264.92 786.31L1280.27 812.90L1249.56 812.90ZM1273.44 786.31L1288.80 812.90L1258.09 812.90ZM1281.97 786.31L1297.32 812.90L1266.62 812.90ZM1213.76 803.36L1229.11 829.95L1198.41 829.95ZM1222.29 803.36L1237.64 829.95L1206.93 829.95ZM1230.81 803.36L1246.16 829.95L1215.46 829.95ZM1239.34 803.36L1254.69 829.95L1223.99 829.95ZM1247.86 803.36L1263.22 829.95L1232.51 829.95ZM1256.39 803.36L1271.74 829.95L1241.04 829.95ZM1264.92 803.36L1280.27 829.95L1249.56 829.95ZM1273.44 803.36L1288.80 829.95L1258.09 829.95ZM1277.71 803.36L1293.06 829.95L1262.35 829.95ZM1209.50 790.57L1224.85 817.17L1194.14 817.17ZM1218.02 790.57L1233.38 817.17L1202.67 817.17ZM1226.55 790.57L1241.90 817.17L1211.20 817.17ZM1235.08 790.57L1250.43 817.17L1219.72 817.17ZM1243.60 790.57L1258.95 817.17L1228.25 817.17ZM1252.13 790.57L1267.48 817.17L1236.77 817.17ZM1260.65 790.57L1276.01 817.17L1245.30 817.17ZM1269.18 790.57L1284.53 817.17L1253.83 817.17ZM1277.71 790.57L1293.06 817.17L1262.35 817.17ZM1235.08 833.19L1250.43 859.79L1219.72 859.79ZM1239.34 833.19L1254.69 859.79L1223.99 859.79ZM1243.60 833.19L1258.95 859.79L1228.25 859.79ZM1247.86 833.19L1263.22 859.79L1232.51 859.79ZM1252.13 833.19L1267.48 859.79L1236.77 859.79ZM1273.44 833.19L1288.80 859.79L1258.09 859.79ZM1205.23 845.98L1220.59 872.57L1189.88 872.57ZM1209.50 845.98L1224.85 872.57L1194.14 872.57ZM1213.76 845.98L1229.11 872.57L1198.41 872.57ZM1218.02 845.98L1233.38 872.57L1202.67 872.57ZM1281.97 845.98L1297.32 872.57L1266.62 872.57ZM1209.50 858.77L1224.85 885.36L1194.14 885.36ZM1218.02 858.77L1233.38 885.36L1202.67 885.36ZM1226.55 858.77L1241.90 885.36L1211.20 885.36ZM1235.08 863.03L1250.43 889.62L1219.72 889.62ZM1205.23 875.81L1220.59 902.41L1189.88 902.41ZM1213.76 875.81L1229.11 902.41L1198.41 902.41ZM1222.29 875.81L1237.64 902.41L1206.93 902.41ZM1235.08 875.81L1250.43 902.41L1219.72 902.41ZM1213.76 892.86L1229.11 919.45L1198.41 919.45ZM1226.55 892.86L1241.90 919.45L1211.20 919.45ZM1235.08 892.86L1250.43 919.45L1219.72 919.45ZM1281.97 892.86L1297.32 919.45L1266.62 919.45ZM1337.39 892.86L1352.75 919.45L1322.04 919.45ZM1350.18 892.86L1365.54 919.45L1334.83 919.45ZM1239.34 897.12L1254.69 923.72L1223.99 923.72ZM1243.60 901.39L1258.95 927.98L1228.25 927.98ZM1281.97 909.91L1297.32 936.50L1266.62 936.50ZM1350.18 786.31L1365.54 812.90L1334.83 812.90ZM1367.24 773.53L1382.59 800.12L1351.88 800.12ZM1388.55 769.26L1403.91 795.86L1373.20 795.86ZM1367.24 786.31L1382.59 812.90L1351.88 812.90ZM1388.55 786.31L1403.91 812.90L1373.20 812.90ZM1409.87 786.31L1425.22 812.90L1394.52 812.90ZM1414.13 786.31L1429.49 812.90L1398.78 812.90ZM1435.45 773.53L1450.80 800.12L1420.10 800.12ZM1435.45 786.31L1450.80 812.90L1420.10 812.90ZM1456.77 769.26L1472.12 795.86L1441.41 795.86ZM1473.82 769.26L1489.17 795.86L1458.47 795.86ZM1456.77 786.31L1472.12 812.90L1441.41 812.90ZM1473.82 786.31L1489.17 812.90L1458.47 812.90ZM1426.92 786.31L1442.28 812.90L1411.57 812.90ZM1367.24 803.36L1382.59 829.95L1351.88 829.95ZM1384.29 803.36L1399.64 829.95L1368.94 829.95ZM1401.34 803.36L1416.70 829.95L1385.99 829.95ZM1418.40 803.36L1433.75 829.95L1403.04 829.95ZM1435.45 803.36L1450.80 829.95L1420.10 829.95ZM1452.50 803.36L1467.86 829.95L1437.15 829.95ZM1469.56 803.36L1484.91 829.95L1454.20 829.95ZM1473.82 803.36L1489.17 829.95L1458.47 829.95ZM1375.76 799.10L1391.12 825.69L1360.41 825.69ZM1392.82 799.10L1408.17 825.69L1377.46 825.69ZM1409.87 799.10L1425.22 825.69L1394.52 825.69ZM1426.92 799.10L1442.28 825.69L1411.57 825.69ZM1443.98 799.10L1459.33 825.69L1428.62 825.69ZM1461.03 799.10L1476.38 825.69L1445.68 825.69ZM1375.76 790.57L1391.12 817.17L1360.41 817.17ZM1397.08 790.57L1412.43 817.17L1381.73 817.17ZM1418.40 790.57L1433.75 817.17L1403.04 817.17ZM1443.98 790.57L1459.33 817.17L1428.62 817.17ZM1465.29 790.57L1480.65 817.17L1449.94 817.17ZM1409.87 816.15L1425.22 842.74L1394.52 842.74ZM1405.61 816.15L1420.96 842.74L1390.25 842.74ZM1409.87 833.19L1425.22 859.79L1394.52 859.79ZM1405.61 845.98L1420.96 872.57L1390.25 872.57ZM1388.55 845.98L1403.91 872.57L1373.20 872.57ZM1405.61 833.19L1420.96 859.79L1390.25 859.79ZM1456.77 892.86L1472.12 919.45L1441.41 919.45ZM1469.56 892.86L1484.91 919.45L1454.20 919.45ZM1473.82 892.86L1489.17 919.45L1458.47 919.45ZM1456.77 909.91L1472.12 936.50L1441.41 936.50ZM1469.56 909.91L1484.91 936.50L1454.20 936.50ZM1473.82 909.91L1489.17 936.50L1458.47 936.50ZM1239.34 892.86L1254.69 919.45L1223.99 919.45ZM1213.76 892.86L1229.11 919.45L1198.41 919.45ZM1239.34 939.74L1254.69 966.34L1223.99 966.34ZM1243.60 939.74L1258.95 966.34L1228.25 966.34ZM1247.86 939.74L1263.22 966.34L1232.51 966.34ZM1252.13 939.74L1267.48 966.34L1236.77 966.34ZM1260.65 935.48L1276.01 962.07L1245.30 962.07ZM1264.92 935.48L1280.27 962.07L1249.56 962.07ZM1269.18 935.48L1284.53 962.07L1253.83 962.07ZM1273.44 931.22L1288.80 957.81L1258.09 957.81ZM1277.71 931.22L1293.06 957.81L1262.35 957.81ZM1281.97 939.74L1297.32 966.34L1266.62 966.34ZM1269.18 939.74L1284.53 966.34L1253.83 966.34ZM1277.71 939.74L1293.06 966.34L1262.35 966.34ZM1260.65 931.22L1276.01 957.81L1245.30 957.81ZM1256.39 939.74L1271.74 966.34L1241.04 966.34ZM1239.34 948.27L1254.69 974.86L1223.99 974.86ZM1243.60 948.27L1258.95 974.86L1228.25 974.86ZM1247.86 948.27L1263.22 974.86L1232.51 974.86ZM1252.13 948.27L1267.48 974.86L1236.77 974.86ZM1239.34 897.12L1254.69 923.72L1223.99 923.72ZM1277.71 909.91L1293.06 936.50L1262.35 936.50ZM1247.86 982.36L1263.22 1008.96L1232.51 1008.96ZM1235.08 986.63L1250.43 1013.22L1219.72 1013.22ZM1243.60 986.63L1258.95 1013.22L1228.25 1013.22ZM1239.34 995.15L1254.69 1021.74L1223.99 1021.74ZM1247.86 995.15L1263.22 1021.74L1232.51 1021.74ZM1235.08 1003.67L1250.43 1030.27L1219.72 1030.27ZM1243.60 1003.67L1258.95 1030.27L1228.25 1030.27ZM1252.13 1003.67L1267.48 1030.27L1236.77 1030.27ZM1260.65 1003.67L1276.01 1030.27L1245.30 1030.27ZM1273.44 1007.94L1288.80 1034.53L1258.09 1034.53ZM1281.97 1007.94L1297.32 1034.53L1266.62 1034.53ZM1235.08 1012.20L1250.43 1038.79L1219.72 1038.79ZM1243.60 1012.20L1258.95 1038.79L1228.25 1038.79ZM1252.13 1016.46L1267.48 1043.05L1236.77 1043.05ZM1260.65 1016.46L1276.01 1043.05L1245.30 1043.05ZM1269.18 1020.72L1284.53 1047.31L1253.83 1047.31ZM1235.08 1020.72L1250.43 1047.31L1219.72 1047.31ZM1243.60 1020.72L1258.95 1047.31L1228.25 1047.31ZM1252.13 1024.98L1267.48 1051.58L1236.77 1051.58ZM1260.65 1024.98L1276.01 1051.58L1245.30 1051.58ZM1281.97 1020.72L1297.32 1047.31L1266.62 1047.31ZM1247.86 1033.51L1263.22 1060.10L1232.51 1060.10ZM1281.97 1067.60L1297.32 1094.20L1266.62 1094.20ZM1337.39 1007.94L1352.75 1034.53L1322.04 1034.53ZM1350.18 1007.94L1365.54 1034.53L1334.83 1034.53ZM1354.45 1007.94L1369.80 1034.53L1339.09 1034.53ZM1362.97 1007.94L1378.33 1034.53L1347.62 1034.53ZM1367.24 1007.94L1382.59 1034.53L1351.88 1034.53ZM1341.66 1016.46L1357.01 1043.05L1326.30 1043.05ZM1345.92 1016.46L1361.27 1043.05L1330.57 1043.05ZM1354.45 1016.46L1369.80 1043.05L1339.09 1043.05ZM1358.71 1016.46L1374.06 1043.05L1343.36 1043.05ZM1367.24 1016.46L1382.59 1043.05L1351.88 1043.05ZM1337.39 1024.98L1352.75 1051.58L1322.04 1051.58ZM1345.92 1024.98L1361.27 1051.58L1330.57 1051.58ZM1350.18 1024.98L1365.54 1051.58L1334.83 1051.58ZM1358.71 1024.98L1374.06 1051.58L1343.36 1051.58ZM1362.97 1024.98L1378.33 1051.58L1347.62 1051.58ZM1341.66 1033.51L1357.01 1060.10L1326.30 1060.10ZM1350.18 1033.51L1365.54 1060.10L1334.83 1060.10ZM1358.71 1033.51L1374.06 1060.10L1343.36 1060.10ZM1367.24 1033.51L1382.59 1060.10L1351.88 1060.10ZM1337.39 1033.51L1352.75 1060.10L1322.04 1060.10ZM1469.56 986.63L1484.91 1013.22L1454.20 1013.22ZM1409.87 1007.94L1425.22 1034.53L1394.52 1034.53ZM1426.92 1007.94L1442.28 1034.53L1411.57 1034.53ZM1469.56 1007.94L1484.91 1034.53L1454.20 1034.53ZM1418.40 1007.94L1433.75 1034.53L1403.04 1034.53ZM1439.71 1007.94L1455.07 1034.53L1424.36 1034.53ZM1452.50 1007.94L1467.86 1034.53L1437.15 1034.53ZM1414.13 1016.46L1429.49 1043.05L1398.78 1043.05ZM1422.66 1016.46L1438.01 1043.05L1407.31 1043.05ZM1431.19 1016.46L1446.54 1043.05L1415.83 1043.05ZM1435.45 1012.20L1450.80 1038.79L1420.10 1038.79ZM1439.71 1016.46L1455.07 1043.05L1424.36 1043.05ZM1443.98 1012.20L1459.33 1038.79L1428.62 1038.79ZM1448.24 1016.46L1463.59 1043.05L1432.89 1043.05ZM1452.50 1012.20L1467.86 1038.79L1437.15 1038.79ZM1456.77 1016.46L1472.12 1043.05L1441.41 1043.05ZM1461.03 1012.20L1476.38 1038.79L1445.68 1038.79ZM1465.29 1016.46L1480.65 1043.05L1449.94 1043.05ZM1473.82 1016.46L1489.17 1043.05L1458.47 1043.05ZM1409.87 1024.98L1425.22 1051.58L1394.52 1051.58ZM1418.40 1024.98L1433.75 1051.58L1403.04 1051.58ZM1426.92 1024.98L1442.28 1051.58L1411.57 1051.58ZM1435.45 1024.98L1450.80 1051.58L1420.10 1051.58ZM1443.98 1024.98L1459.33 1051.58L1428.62 1051.58ZM1452.50 1024.98L1467.86 1051.58L1437.15 1051.58ZM1461.03 1024.98L1476.38 1051.58L1445.68 1051.58ZM1469.56 1024.98L1484.91 1051.58L1454.20 1051.58ZM1409.87 1033.51L1425.22 1060.10L1394.52 1060.10ZM1422.66 1033.51L1438.01 1060.10L1407.31 1060.10ZM1431.19 1029.25L1446.54 1055.84L1415.83 1055.84ZM1439.71 1033.51L1455.07 1060.10L1424.36 1060.10ZM1448.24 1029.25L1463.59 1055.84L1432.89 1055.84ZM1456.77 1033.51L1472.12 1060.10L1441.41 1060.10ZM1465.29 1029.25L1480.65 1055.84L1449.94 1055.84ZM1473.82 1033.51L1489.17 1060.10L1458.47 1060.10ZM1350.18 1067.60L1365.54 1094.20L1334.83 1094.20ZM1388.55 1067.60L1403.91 1094.20L1373.20 1094.20ZM1397.08 1067.60L1412.43 1094.20L1381.73 1094.20ZM1409.87 1067.60L1425.22 1094.20L1394.52 1094.20ZM1337.39 1080.39L1352.75 1106.98L1322.04 1106.98ZM1367.24 1080.39L1382.59 1106.98L1351.88 1106.98ZM1426.92 1080.39L1442.28 1106.98L1411.57 1106.98ZM1435.45 1084.65L1450.80 1111.24L1420.10 1111.24ZM1448.24 1084.65L1463.59 1111.24L1432.89 1111.24ZM1461.03 1080.39L1476.38 1106.98L1445.68 1106.98ZM1473.82 1080.39L1489.17 1106.98L1458.47 1106.98ZM1345.92 1080.39L1361.27 1106.98L1330.57 1106.98ZM1354.45 1084.65L1369.80 1111.24L1339.09 1111.24ZM1380.03 1084.65L1395.38 1111.24L1364.67 1111.24ZM1401.34 1084.65L1416.70 1111.24L1385.99 1111.24ZM1414.13 1084.65L1429.49 1111.24L1398.78 1111.24ZM1337.39 1093.18L1352.75 1119.77L1322.04 1119.77ZM1345.92 1093.18L1361.27 1119.77L1330.57 1119.77ZM1354.45 1093.18L1369.80 1119.77L1339.09 1119.77ZM1341.66 1097.44L1357.01 1124.03L1326.30 1124.03ZM1409.87 1093.18L1425.22 1119.77L1394.52 1119.77ZM1418.40 1097.44L1433.75 1124.03L1403.04 1124.03ZM1426.92 1093.18L1442.28 1119.77L1411.57 1119.77ZM1435.45 1101.70L1450.80 1128.29L1420.10 1128.29ZM1409.87 1105.96L1425.22 1132.55L1394.52 1132.55ZM1418.40 1105.96L1433.75 1132.55L1403.04 1132.55ZM1426.92 1105.96L1442.28 1132.55L1411.57 1132.55ZM1337.39 1127.27L1352.75 1153.86L1322.04 1153.86ZM1350.18 1127.27L1365.54 1153.86L1334.83 1153.86ZM1354.45 1127.27L1369.80 1153.86L1339.09 1153.86ZM1367.24 1127.27L1382.59 1153.86L1351.88 1153.86ZM1345.92 1127.27L1361.27 1153.86L1330.57 1153.86ZM1358.71 1127.27L1374.06 1153.86L1343.36 1153.86ZM1448.24 1118.75L1463.59 1145.34L1432.89 1145.34ZM1448.24 1123.01L1463.59 1149.60L1432.89 1149.60ZM1452.50 1118.75L1467.86 1145.34L1437.15 1145.34ZM1452.50 1123.01L1467.86 1149.60L1437.15 1149.60ZM1456.77 1118.75L1472.12 1145.34L1441.41 1145.34ZM1456.77 1123.01L1472.12 1149.60L1441.41 1149.60ZM1448.24 1127.27L1463.59 1153.86L1432.89 1153.86ZM1448.24 1131.53L1463.59 1158.13L1432.89 1158.13ZM1452.50 1127.27L1467.86 1153.86L1437.15 1153.86ZM1452.50 1131.53L1467.86 1158.13L1437.15 1158.13ZM1456.77 1127.27L1472.12 1153.86L1441.41 1153.86ZM1456.77 1131.53L1472.12 1158.13L1441.41 1158.13ZM1461.03 1127.27L1476.38 1153.86L1445.68 1153.86ZM1461.03 1131.53L1476.38 1158.13L1445.68 1158.13ZM1465.29 1127.27L1480.65 1153.86L1449.94 1153.86ZM1465.29 1131.53L1480.65 1158.13L1449.94 1158.13ZM1469.56 1127.27L1484.91 1153.86L1454.20 1153.86ZM1469.56 1131.53L1484.91 1158.13L1454.20 1158.13ZM1473.82 1127.27L1489.17 1153.86L1458.47 1153.86ZM1473.82 1131.53L1489.17 1158.13L1458.47 1158.13ZM1456.77 1135.80L1472.12 1162.39L1441.41 1162.39ZM1456.77 1140.06L1472.12 1166.65L1441.41 1166.65ZM1456.77 1144.32L1472.12 1170.91L1441.41 1170.91ZM1461.03 1135.80L1476.38 1162.39L1445.68 1162.39ZM1461.03 1140.06L1476.38 1166.65L1445.68 1166.65ZM1461.03 1144.32L1476.38 1170.91L1445.68 1170.91ZM1465.29 1135.80L1480.65 1162.39L1449.94 1162.39ZM1465.29 1140.06L1480.65 1166.65L1449.94 1166.65ZM1465.29 1144.32L1480.65 1170.91L1449.94 1170.91ZM1469.56 1135.80L1484.91 1162.39L1454.20 1162.39ZM1469.56 1140.06L1484.91 1166.65L1454.20 1166.65ZM1469.56 1144.32L1484.91 1170.91L1454.20 1170.91ZM1473.82 1135.80L1489.17 1162.39L1458.47 1162.39ZM1473.82 1140.06L1489.17 1166.65L1458.47 1166.65ZM1473.82 1144.32L1489.17 1170.91L1458.47 1170.91ZM1388.55 1080.39L1403.91 1106.98L1373.20 1106.98ZM1409.87 1080.39L1425.22 1106.98L1394.52 1106.98ZM1414.13 1093.18L1429.49 1119.77L1398.78 1119.77ZM1422.66 1097.44L1438.01 1124.03L1407.31 1124.03ZM1431.19 1093.18L1446.54 1119.77L1415.83 1119.77ZM1439.71 1097.44L1455.07 1124.03L1424.36 1124.03ZM1414.13 1101.70L1429.49 1128.29L1398.78 1128.29ZM1422.66 1105.96L1438.01 1132.55L1407.31 1132.55ZM1431.19 1101.70L1446.54 1128.29L1415.83 1128.29ZM1439.71 1105.96L1455.07 1132.55L1424.36 1132.55ZM1388.55 1174.15L1403.91 1200.75L1373.20 1200.75ZM1414.13 1165.63L1429.49 1192.22L1398.78 1192.22ZM1426.92 1165.63L1442.28 1192.22L1411.57 1192.22ZM1435.45 1174.15L1450.80 1200.75L1420.10 1200.75ZM1448.24 1174.15L1463.59 1200.75L1432.89 1200.75ZM1495.14 1165.63L1510.49 1192.22L1479.78 1192.22ZM1418.40 1174.15L1433.75 1200.75L1403.04 1200.75ZM1422.66 1169.89L1438.01 1196.48L1407.31 1196.48ZM1431.19 1169.89L1446.54 1196.48L1415.83 1196.48ZM1439.71 1169.89L1455.07 1196.48L1424.36 1196.48ZM1443.98 1174.15L1459.33 1200.75L1428.62 1200.75ZM1456.77 1174.15L1472.12 1200.75L1441.41 1200.75ZM1435.45 1174.15L1450.80 1200.75L1420.10 1200.75ZM1439.71 1174.15L1455.07 1200.75L1424.36 1200.75ZM1443.98 1174.15L1459.33 1200.75L1428.62 1200.75ZM1448.24 1174.15L1463.59 1200.75L1432.89 1200.75ZM1452.50 1174.15L1467.86 1200.75L1437.15 1200.75ZM1456.77 1174.15L1472.12 1200.75L1441.41 1200.75ZM1435.45 1208.25L1450.80 1234.84L1420.10 1234.84ZM1439.71 1208.25L1455.07 1234.84L1424.36 1234.84ZM1443.98 1208.25L1459.33 1234.84L1428.62 1234.84ZM1448.24 1208.25L1463.59 1234.84L1432.89 1234.84ZM1452.50 1208.25L1467.86 1234.84L1437.15 1234.84ZM1456.77 1208.25L1472.12 1234.84L1441.41 1234.84ZM1461.03 1208.25L1476.38 1234.84L1445.68 1234.84ZM1465.29 1208.25L1480.65 1234.84L1449.94 1234.84ZM1469.56 1208.25L1484.91 1234.84L1454.20 1234.84ZM1443.98 1216.77L1459.33 1243.37L1428.62 1243.37ZM1452.50 1216.77L1467.86 1243.37L1437.15 1243.37ZM1461.03 1216.77L1476.38 1243.37L1445.68 1243.37ZM1469.56 1216.77L1484.91 1243.37L1454.20 1243.37ZM1435.45 1225.30L1450.80 1251.89L1420.10 1251.89ZM1443.98 1225.30L1459.33 1251.89L1428.62 1251.89ZM1452.50 1225.30L1467.86 1251.89L1437.15 1251.89ZM1461.03 1225.30L1476.38 1251.89L1445.68 1251.89ZM1469.56 1225.30L1484.91 1251.89L1454.20 1251.89ZM1473.82 1225.30L1489.17 1251.89L1458.47 1251.89ZM1439.71 1229.56L1455.07 1256.15L1424.36 1256.15ZM1448.24 1229.56L1463.59 1256.15L1432.89 1256.15ZM1456.77 1229.56L1472.12 1256.15L1441.41 1256.15ZM1465.29 1229.56L1480.65 1256.15L1449.94 1256.15ZM1473.82 1229.56L1489.17 1256.15L1458.47 1256.15ZM1452.50 1238.08L1467.86 1264.68L1437.15 1264.68ZM1461.03 1238.08L1476.38 1264.68L1445.68 1264.68ZM1469.56 1238.08L1484.91 1264.68L1454.20 1264.68ZM1452.50 1242.35L1467.86 1268.94L1437.15 1268.94ZM1456.77 1242.35L1472.12 1268.94L1441.41 1268.94ZM1465.29 1242.35L1480.65 1268.94L1449.94 1268.94ZM1473.82 1242.35L1489.17 1268.94L1458.47 1268.94ZM1456.77 1246.61L1472.12 1273.20L1441.41 1273.20ZM1465.29 1246.61L1480.65 1273.20L1449.94 1273.20ZM1473.82 1246.61L1489.17 1273.20L1458.47 1273.20ZM1469.56 1259.39L1484.91 1285.99L1454.20 1285.99ZM1473.82 1259.39L1489.17 1285.99L1458.47 1285.99ZM1252.13 1037.77L1267.48 1064.36L1236.77 1064.36ZM1239.34 999.41L1254.69 1026.00L1223.99 1026.00ZM1247.86 999.41L1263.22 1026.00L1232.51 1026.00ZM1256.39 999.41L1271.74 1026.00L1241.04 1026.00ZM1239.34 1007.94L1254.69 1034.53L1223.99 1034.53ZM1247.86 1007.94L1263.22 1034.53L1232.51 1034.53ZM1256.39 1007.94L1271.74 1034.53L1241.04 1034.53ZM1264.92 1012.20L1280.27 1038.79L1249.56 1038.79ZM1239.34 1016.46L1254.69 1043.05L1223.99 1043.05ZM1247.86 1016.46L1263.22 1043.05L1232.51 1043.05ZM1256.39 1020.72L1271.74 1047.31L1241.04 1047.31ZM1264.92 1020.72L1280.27 1047.31L1249.56 1047.31ZM1273.44 1020.72L1288.80 1047.31L1258.09 1047.31ZM1239.34 1024.98L1254.69 1051.58L1223.99 1051.58ZM1247.86 1024.98L1263.22 1051.58L1232.51 1051.58ZM1269.18 1029.25L1284.53 1055.84L1253.83 1055.84ZM1277.71 1029.25L1293.06 1055.84L1262.35 1055.84ZM1252.13 973.84L1267.48 1000.43L1236.77 1000.43ZM1243.60 978.10L1258.95 1004.69L1228.25 1004.69ZM1239.34 982.36L1254.69 1008.96L1223.99 1008.96ZM1252.13 986.63L1267.48 1013.22L1236.77 1013.22ZM1243.60 995.15L1258.95 1021.74L1228.25 1021.74ZM770.38 543.38L785.73 569.97L755.02 569.97ZM770.38 551.90L785.73 578.49L755.02 578.49ZM770.38 560.43L785.73 587.02L755.02 587.02ZM774.64 543.38L789.99 569.97L759.29 569.97ZM774.64 551.90L789.99 578.49L759.29 578.49ZM774.64 560.43L789.99 587.02L759.29 587.02ZM778.90 543.38L794.26 569.97L763.55 569.97ZM778.90 551.90L794.26 578.49L763.55 578.49ZM778.90 560.43L794.26 587.02L763.55 587.02ZM783.17 543.38L798.52 569.97L767.81 569.97ZM783.17 551.90L798.52 578.49L767.81 578.49ZM783.17 560.43L798.52 587.02L767.81 587.02ZM787.43 543.38L802.78 569.97L772.08 569.97ZM787.43 551.90L802.78 578.49L772.08 578.49ZM787.43 560.43L802.78 587.02L772.08 587.02ZM791.69 543.38L807.05 569.97L776.34 569.97ZM791.69 551.90L807.05 578.49L776.34 578.49ZM791.69 560.43L807.05 587.02L776.34 587.02ZM1043.23 155.54L1058.58 182.13L1027.87 182.13ZM1043.23 159.80L1058.58 186.39L1027.87 186.39ZM1043.23 164.06L1058.58 190.65L1027.87 190.65ZM1043.23 168.32L1058.58 194.91L1027.87 194.91ZM1043.23 172.58L1058.58 199.18L1027.87 199.18ZM1047.49 155.54L1062.84 182.13L1032.14 182.13ZM1047.49 159.80L1062.84 186.39L1032.14 186.39ZM1047.49 164.06L1062.84 190.65L1032.14 190.65ZM1047.49 168.32L1062.84 194.91L1032.14 194.91ZM1047.49 172.58L1062.84 199.18L1032.14 199.18ZM1051.75 155.54L1067.11 182.13L1036.40 182.13ZM1051.75 159.80L1067.11 186.39L1036.40 186.39ZM1051.75 164.06L1067.11 190.65L1036.40 190.65ZM1051.75 168.32L1067.11 194.91L1036.40 194.91ZM1051.75 172.58L1067.11 199.18L1036.40 199.18ZM1056.02 155.54L1071.37 182.13L1040.66 182.13ZM1056.02 159.80L1071.37 186.39L1040.66 186.39ZM1056.02 164.06L1071.37 190.65L1040.66 190.65ZM1056.02 168.32L1071.37 194.91L1040.66 194.91ZM1056.02 172.58L1071.37 199.18L1040.66 199.18ZM1388.55 117.18L1403.91 143.77L1373.20 143.77ZM1388.55 121.44L1403.91 148.03L1373.20 148.03ZM1392.82 117.18L1408.17 143.77L1377.46 143.77ZM1392.82 121.44L1408.17 148.03L1377.46 148.03ZM1397.08 117.18L1412.43 143.77L1381.73 143.77ZM1397.08 121.44L1412.43 148.03L1381.73 148.03ZM1401.34 117.18L1416.70 143.77L1385.99 143.77ZM1401.34 121.44L1416.70 148.03L1385.99 148.03ZM1405.61 117.18L1420.96 143.77L1390.25 143.77ZM1405.61 121.44L1420.96 148.03L1390.25 148.03ZM1409.87 117.18L1425.22 143.77L1394.52 143.77ZM1409.87 121.44L1425.22 148.03L1394.52 148.03ZM1414.13 117.18L1429.49 143.77L1398.78 143.77ZM1414.13 121.44L1429.49 148.03L1398.78 148.03ZM1397.08 112.92L1412.43 139.51L1381.73 139.51ZM1397.08 227.99L1412.43 254.58L1381.73 254.58ZM1397.08 232.25L1412.43 258.84L1381.73 258.84ZM1397.08 236.51L1412.43 263.11L1381.73 263.11ZM1397.08 240.78L1412.43 267.37L1381.73 267.37ZM1397.08 245.04L1412.43 271.63L1381.73 271.63ZM1397.08 249.30L1412.43 275.89L1381.73 275.89ZM1397.08 253.56L1412.43 280.15L1381.73 280.15ZM1401.34 227.99L1416.70 254.58L1385.99 254.58ZM1401.34 232.25L1416.70 258.84L1385.99 258.84ZM1401.34 236.51L1416.70 263.11L1385.99 263.11ZM1401.34 240.78L1416.70 267.37L1385.99 267.37ZM1401.34 245.04L1416.70 271.63L1385.99 271.63ZM1401.34 249.30L1416.70 275.89L1385.99 275.89ZM1401.34 253.56L1416.70 280.15L1385.99 280.15ZM1405.61 227.99L1420.96 254.58L1390.25 254.58ZM1405.61 232.25L1420.96 258.84L1390.25 258.84ZM1405.61 236.51L1420.96 263.11L1390.25 263.11ZM1405.61 240.78L1420.96 267.37L1390.25 267.37ZM1405.61 245.04L1420.96 271.63L1390.25 271.63ZM1405.61 249.30L1420.96 275.89L1390.25 275.89ZM1405.61 253.56L1420.96 280.15L1390.25 280.15ZM1409.87 227.99L1425.22 254.58L1394.52 254.58ZM1409.87 232.25L1425.22 258.84L1394.52 258.84ZM1409.87 236.51L1425.22 263.11L1394.52 263.11ZM1409.87 240.78L1425.22 267.37L1394.52 267.37ZM1409.87 245.04L1425.22 271.63L1394.52 271.63ZM1409.87 249.30L1425.22 275.89L1394.52 275.89ZM1409.87 253.56L1425.22 280.15L1394.52 280.15ZM322.73 108.65L338.08 135.25L307.38 135.25ZM322.73 112.92L338.08 139.51L307.38 139.51ZM322.73 117.18L338.08 143.77L307.38 143.77ZM322.73 121.44L338.08 148.03L307.38 148.03ZM326.99 108.65L342.35 135.25L311.64 135.25ZM326.99 112.92L342.35 139.51L311.64 139.51ZM326.99 117.18L342.35 143.77L311.64 143.77ZM326.99 121.44L342.35 148.03L311.64 148.03ZM331.26 108.65L346.61 135.25L315.90 135.25ZM331.26 112.92L346.61 139.51L315.90 139.51ZM331.26 117.18L346.61 143.77L315.90 143.77ZM331.26 121.44L346.61 148.03L315.90 148.03ZM335.52 108.65L350.87 135.25L320.17 135.25ZM335.52 112.92L350.87 139.51L320.17 139.51ZM335.52 117.18L350.87 143.77L320.17 143.77ZM335.52 121.44L350.87 148.03L320.17 148.03ZM339.78 108.65L355.14 135.25L324.43 135.25ZM339.78 112.92L355.14 139.51L324.43 139.51ZM339.78 117.18L355.14 143.77L324.43 143.77ZM339.78 121.44L355.14 148.03L324.43 148.03ZM442.10 223.73L457.45 250.32L426.75 250.32ZM442.10 227.99L457.45 254.58L426.75 254.58ZM442.10 232.25L457.45 258.84L426.75 258.84ZM446.36 223.73L461.72 250.32L431.01 250.32ZM446.36 227.99L461.72 254.58L431.01 254.58ZM446.36 232.25L461.72 258.84L431.01 258.84ZM450.63 223.73L465.98 250.32L435.27 250.32ZM450.63 227.99L465.98 254.58L435.27 254.58ZM450.63 232.25L465.98 258.84L435.27 258.84ZM454.89 223.73L470.24 250.32L439.54 250.32ZM454.89 227.99L470.24 254.58L439.54 254.58ZM454.89 232.25L470.24 258.84L439.54 258.84ZM1337.39 637.14L1352.75 663.73L1322.04 663.73ZM1345.92 637.14L1361.27 663.73L1330.57 663.73ZM1354.45 637.14L1369.80 663.73L1339.09 663.73ZM1362.97 637.14L1378.33 663.73L1347.62 663.73ZM1371.50 637.14L1386.85 663.73L1356.15 663.73ZM1380.03 637.14L1395.38 663.73L1364.67 663.73ZM1388.55 637.14L1403.91 663.73L1373.20 663.73ZM1397.08 637.14L1412.43 663.73L1381.73 663.73ZM1405.61 637.14L1420.96 663.73L1390.25 663.73ZM1341.66 649.93L1357.01 676.52L1326.30 676.52ZM1341.66 658.45L1357.01 685.04L1326.30 685.04ZM1341.66 666.98L1357.01 693.57L1326.30 693.57ZM1341.66 675.50L1357.01 702.09L1326.30 702.09ZM1350.18 649.93L1365.54 676.52L1334.83 676.52ZM1350.18 658.45L1365.54 685.04L1334.83 685.04ZM1350.18 666.98L1365.54 693.57L1334.83 693.57ZM1350.18 675.50L1365.54 702.09L1334.83 702.09ZM1358.71 649.93L1374.06 676.52L1343.36 676.52ZM1358.71 658.45L1374.06 685.04L1343.36 685.04ZM1358.71 666.98L1374.06 693.57L1343.36 693.57ZM1358.71 675.50L1374.06 702.09L1343.36 702.09ZM1367.24 649.93L1382.59 676.52L1351.88 676.52ZM1367.24 658.45L1382.59 685.04L1351.88 685.04ZM1367.24 666.98L1382.59 693.57L1351.88 693.57ZM1367.24 675.50L1382.59 702.09L1351.88 702.09ZM1375.76 624.36L1391.12 650.95L1360.41 650.95ZM1388.55 628.62L1403.91 655.21L1373.20 655.21ZM1401.34 628.62L1416.70 655.21L1385.99 655.21ZM1000.59 777.79L1015.95 804.38L985.24 804.38ZM1000.59 786.31L1015.95 812.90L985.24 812.90ZM1009.12 777.79L1024.47 804.38L993.77 804.38ZM1009.12 786.31L1024.47 812.90L993.77 812.90ZM1017.65 777.79L1033.00 804.38L1002.29 804.38ZM1017.65 786.31L1033.00 812.90L1002.29 812.90ZM1026.17 777.79L1041.53 804.38L1010.82 804.38ZM1026.17 786.31L1041.53 812.90L1010.82 812.90ZM1264.92 931.22L1280.27 957.81L1249.56 957.81ZM1264.92 935.48L1280.27 962.07L1249.56 962.07ZM1264.92 939.74L1280.27 966.34L1249.56 966.34ZM1269.18 931.22L1284.53 957.81L1253.83 957.81ZM1269.18 935.48L1284.53 962.07L1253.83 962.07ZM1269.18 939.74L1284.53 966.34L1253.83 966.34ZM1273.44 931.22L1288.80 957.81L1258.09 957.81ZM1273.44 935.48L1288.80 962.07L1258.09 962.07ZM1273.44 939.74L1288.80 966.34L1258.09 966.34ZM1277.71 931.22L1293.06 957.81L1262.35 957.81ZM1277.71 935.48L1293.06 962.07L1262.35 962.07ZM1277.71 939.74L1293.06 966.34L1262.35 966.34Z" stroke="#ff0000"/></g>
<g stroke="#000" stroke-width="3" stroke-linecap="round" stroke-linejoin="round" fill="none">
<rect x="120" y="30" width="1450" height="1450"/><line x1="169.25" y1="1479.5" x2="169.25" y2="1510"/><line x1="382.41" y1="1479.5" x2="382.41" y2="1510"/><line x1="595.58" y1="1479.5" x2="595.58" y2="1510"/><line x1="808.75" y1="1479.5" x2="808.75" y2="1510"/><line x1="1021.91" y1="1479.5" x2="1021.91" y2="1510"/><line x1="1235.08" y1="1479.5" x2="1235.08" y2="1510"/><line x1="1448.24" y1="1479.5" x2="1448.24" y2="1510"/><line x1="89.5" y1="79.50" x2="120" y2="79.50"/><line x1="89.5" y1="292.60" x2="120" y2="292.60"/><line x1="89.5" y1="505.70" x2="120" y2="505.70"/><line x1="89.5" y1="718.80" x2="120" y2="718.80"/><line x1="89.5" y1="931.90" x2="120" y2="931.90"/><line x1="89.5" y1="1145.00" x2="120" y2="1145.00"/><line x1="89.5" y1="1358.10" x2="120" y2="1358.10"/></g>
<g font-size="51.7" fill="#000"><text transform="translate(169.25 1588.5) scale(0.94 1)" text-anchor="middle">0</text><text transform="translate(382.41 1588.5) scale(0.94 1)" text-anchor="middle">50</text><text transform="translate(595.58 1588.5) scale(0.94 1)" text-anchor="middle">100</text><text transform="translate(808.75 1588.5) scale(0.94 1)" text-anchor="middle">150</text><text transform="translate(1021.91 1588.5) scale(0.94 1)" text-anchor="middle">200</text><text transform="translate(1235.08 1588.5) scale(0.94 1)" text-anchor="middle">250</text><text transform="translate(1448.24 1588.5) scale(0.94 1)" text-anchor="middle">300</text><text transform="translate(49 79.50) rotate(-90) scale(0.94 1)" text-anchor="middle">0</text><text transform="translate(49 292.60) rotate(-90) scale(0.94 1)" text-anchor="middle">50</text><text transform="translate(49 505.70) rotate(-90) scale(0.94 1)" text-anchor="middle">100</text><text transform="translate(49 718.80) rotate(-90) scale(0.94 1)" text-anchor="middle">150</text><text transform="translate(49 931.90) rotate(-90) scale(0.94 1)" text-anchor="middle">200</text><text transform="translate(49 1145.00) rotate(-90) scale(0.94 1)" text-anchor="middle">250</text><text transform="translate(49 1358.10) rotate(-90) scale(0.94 1)" text-anchor="middle">300</text></g>
<g fill="none" stroke-width="2.8" stroke-linejoin="round"><path d="M1202.50 71.97L1217.85 98.56L1187.15 98.56Z" stroke="#ff0000"/><path d="M1191.10 138.50H1213.90V161.30H1191.10Z" stroke="#0000ff"/></g>
<g font-size="50" fill="#000"><text x="1247" y="107.5">DNCON2-RR</text><text x="1247" y="167.5">Model-RR</text></g>
<text transform="translate(199 1451.5) scale(0.943 1)" font-size="106" fill="#000" style="font-kerning:none">Top-2L</text>
</svg>
</body></html>
